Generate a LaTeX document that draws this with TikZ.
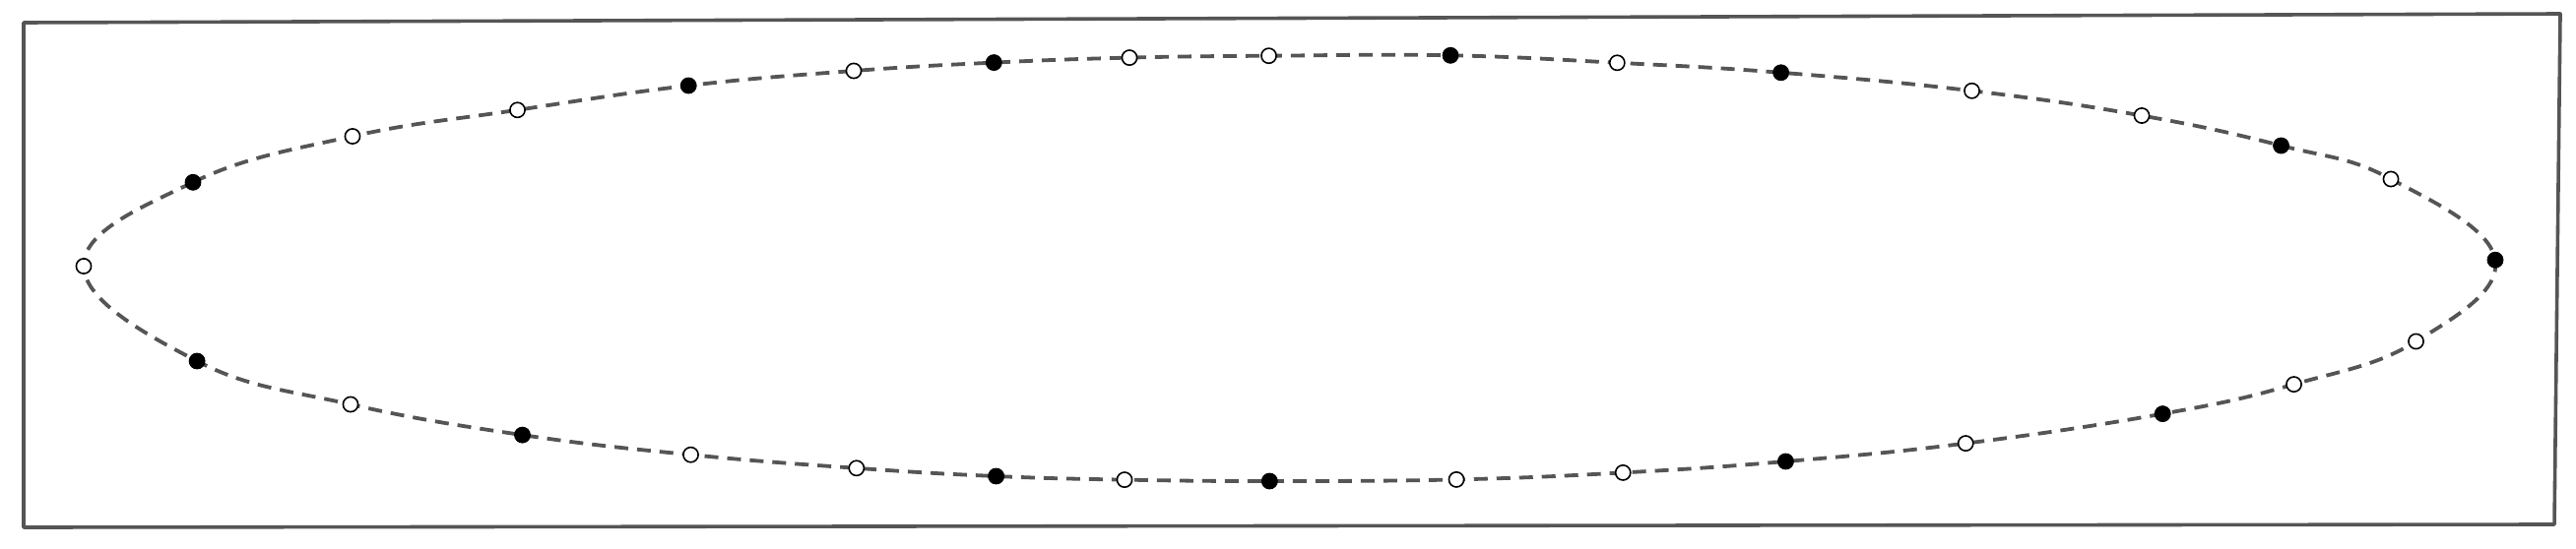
\documentclass[tikz,border=0pt]{standalone}
\definecolor{linegray}{HTML}{555555}
\begin{document}
\begin{tikzpicture}[x=0.5pt,y=-0.5pt,
  frameline/.style={draw=linegray,line width=1.8pt,line join=round},
  track/.style={draw=linegray,line width=1.9pt,dash pattern=on 7pt off 4.5pt},
  fdot/.style={circle,fill=black,draw=black,line width=0.4pt,minimum size=8pt,inner sep=0pt},
  odot/.style={circle,fill=white,draw=black,line width=0.8pt,minimum size=7.6pt,inner sep=0pt}]
\useasboundingbox (0,0) rectangle (2616,557);
% frame
\coordinate (fTL) at (24,23);
\coordinate (fTR) at (2600,14);
\coordinate (fBR) at (2594,533);
\coordinate (fBL) at (24,536);
\draw[frameline] (fTL) -- (fTR) -- (fBR) -- (fBL) -- cycle;
% points on the track
\coordinate (p1) at (85,270.5);
\coordinate (p2) at (196,185.3);
\coordinate (p3) at (358,138.5);
\coordinate (p4) at (525.5,111.8);
\coordinate (p5) at (699.2,87);
\coordinate (p6) at (867,72);
\coordinate (p7) at (1009.3,63.6);
\coordinate (p8) at (1147,58.6);
\coordinate (p9) at (1288.5,56.7);
\coordinate (p10) at (1473,56.3);
\coordinate (p11) at (1642.3,63.8);
\coordinate (p12) at (1808.6,73.8);
\coordinate (p13) at (2002.5,92.3);
\coordinate (p14) at (2175,117.5);
\coordinate (p15) at (2316.5,148);
\coordinate (p16) at (2428,182);
\coordinate (p17) at (2534,264.2);
\coordinate (p18) at (2453.5,347);
\coordinate (p19) at (2329.5,390.6);
\coordinate (p20) at (2196.2,420.6);
\coordinate (p21) at (1996.2,450.6);
\coordinate (p22) at (1813.4,469);
\coordinate (p23) at (1648.2,480.4);
\coordinate (p24) at (1479,487.4);
\coordinate (p25) at (1289.3,489);
\coordinate (p26) at (1142,487.6);
\coordinate (p27) at (1011.6,484);
\coordinate (p28) at (869.8,475.8);
\coordinate (p29) at (701.5,462.2);
\coordinate (p30) at (530.5,442.1);
\coordinate (p31) at (356,411);
\coordinate (p32) at (200.1,367);
% dashed closed track
\draw[track] plot[smooth cycle,tension=0.7] coordinates {(p1) (p2) (p3) (p4) (p5) (p6) (p7) (p8) (p9) (p10) (p11) (p12) (p13) (p14) (p15) (p16) (p17) (p18) (p19) (p20) (p21) (p22) (p23) (p24) (p25) (p26) (p27) (p28) (p29) (p30) (p31) (p32)};
% dots
\foreach \i in {1,3,4,6,8,9,11,13,14,16,18,19,21,23,24,26,28,29,31}
  \node[odot] (d\i) at (p\i) {};
\foreach \i in {2,5,7,10,12,15,17,20,22,25,27,30,32}
  \node[fdot] (d\i) at (p\i) {};
\end{tikzpicture}
\end{document}
